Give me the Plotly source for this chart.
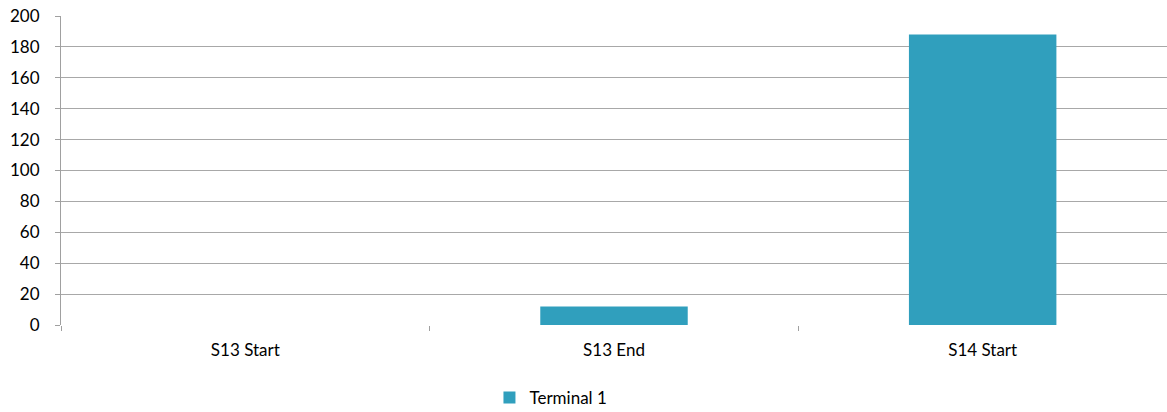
import plotly.graph_objects as go

categories = ["S13 Start", "S13 End", "S14 Start"]
terminal_1 = [0, 12, 188]
y_ticks = [0, 20, 40, 60, 80, 100, 120, 140, 160, 180, 200]

fig = go.Figure()
fig.add_trace(go.Bar(
    x=categories, y=terminal_1, name="Terminal 1",
    marker=dict(color="#309FBD", line=dict(width=0)),
))

font = dict(family="Lato, Open Sans, sans-serif", size=17, color="#000000")
fig.update_layout(
    width=1167, height=412,
    margin=dict(l=61, r=0, t=15.5, b=86.5),
    paper_bgcolor="white", plot_bgcolor="white",
    font=font,
    bargap=0.6,
    showlegend=True,
    legend=dict(orientation="h", x=0.443, xanchor="center", yref="container",
                y=0.034, yanchor="middle", font=dict(size=17)),
    xaxis=dict(type="category", showgrid=False, ticks="outside", tickson="boundaries",
               ticklen=5, tickcolor="#A0A0A0", showline=False, zeroline=False,
               tickfont=font, automargin=False, ticklabelstandoff=13),
    yaxis=dict(range=[0, 200], tickvals=y_ticks, showgrid=True, gridcolor="#A8A8A8",
               gridwidth=1, showline=True, linecolor="#A0A0A0", linewidth=1,
               ticks="outside", ticklen=5, tickcolor="#A0A0A0", zeroline=False,
               tickfont=font, automargin=False, ticklabelstandoff=12),
)
fig.write_html("out.html", config={"displayModeBar": False},
               post_script="document.body.style.margin='0';")
